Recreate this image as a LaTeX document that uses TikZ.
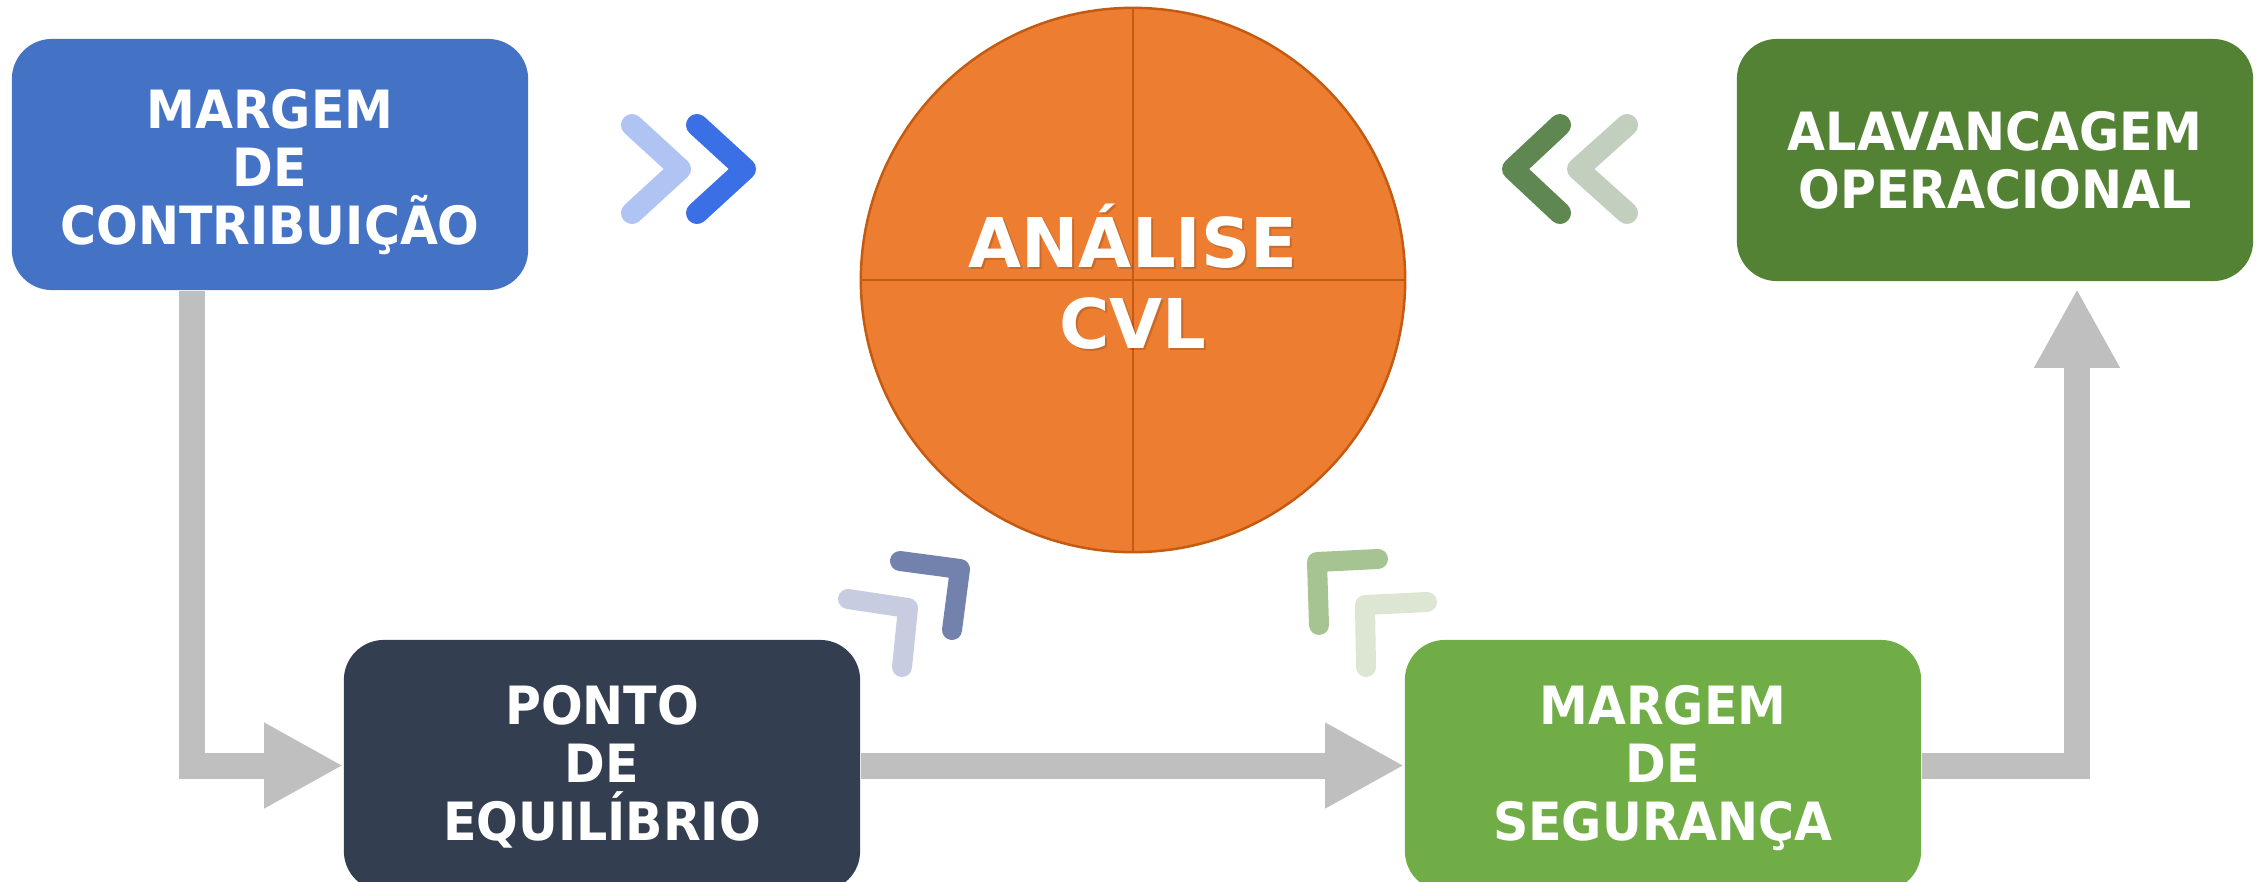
\documentclass[tikz,border=0pt]{standalone}
\usepackage{fontspec}
\setmainfont{DejaVu Sans}
\usetikzlibrary{arrows.meta}
\definecolor{mcblue}{HTML}{4472C4}
\definecolor{navy}{HTML}{333F50}
\definecolor{lgreen}{HTML}{70AD47}
\definecolor{dgreen}{HTML}{548235}
\definecolor{cvlorange}{HTML}{ED7D31}
\definecolor{cvledge}{HTML}{C55A11}
\definecolor{arrowgray}{HTML}{BFBFBF}
\definecolor{chevbluelight}{HTML}{B0C4F4}
\definecolor{chevbluedark}{HTML}{3A6FE6}
\definecolor{chevgreendark}{HTML}{5F8752}
\definecolor{chevgreenlight}{HTML}{C2CFBE}
\definecolor{bentbluedark}{HTML}{7282AC}
\definecolor{bentbluelight}{HTML}{C7CCE0}
\definecolor{bentgreendark}{HTML}{A6C491}
\definecolor{bentgreenlight}{HTML}{DCE6D2}
\begin{document}
\begin{tikzpicture}[x=0.01cm,y=-0.01cm,
  box/.style={rounded corners=0.4cm, minimum width=5.16cm, minimum height=2.51cm,
    inner sep=0pt},
  lbl/.style={anchor=north, align=center, inner sep=0pt, text=white,
    xscale=0.93, transform shape,
    font=\bfseries\fontsize{15}{16.4}\selectfont},
  garrow/.style={draw=arrowgray, line width=0.26cm, line join=miter,
    -{Triangle[length=0.79cm,width=0.80cm]}},
  chev/.style={line width=0.22cm, line cap=round, line join=round},
  bent/.style={line width=0.2cm, line cap=round, line join=round},
  cvltext/.style={align=center, inner sep=0pt,
    font=\bfseries\fontsize{19.5}{23}\selectfont}
]
\useasboundingbox (0,0) rectangle (2260,881);
\clip (0,0) rectangle (2260,881);

% boxes
\node[box, fill=mcblue] (mc) at (270,164.5) {};
\node[box, fill=dgreen, minimum height=2.42cm] (ao) at (1995,160) {};
\node[box, fill=navy] (pe) at (602,765.5) {};
\node[box, fill=lgreen] (ms) at (1663,765.5) {};

% box texts
\node[lbl] (mctext) at (270,89) {MARGEM\\DE\\CONTRIBUIÇÃO};
\node[lbl] (aotext) at (1995,111) {ALAVANCAGEM\\OPERACIONAL};
\node[lbl] (petext) at (602,685) {PONTO\\DE\\EQUILÍBRIO};
\node[lbl] (mstext) at (1663,685) {MARGEM\\DE\\SEGURANÇA};

% central circle
\node[circle, minimum size=5.44cm, inner sep=0pt, fill=cvlorange, draw=cvledge, line width=0.025cm] (cvl) at (1133,280) {};
\draw[cvledge, line width=0.025cm] (cvl.north) -- (cvl.south);
\draw[cvledge, line width=0.025cm] (cvl.west) -- (cvl.east);
\node[cvltext, text=black, opacity=0.15] (cvlshadow) at (1135,279) {ANÁLISE\\CVL};
\node[cvltext, text=white] (cvltitle) at (1133,277) {ANÁLISE\\CVL};

% gray connectors
\coordinate (c1) at (192,0);
\coordinate (c3) at (2077,0);
\draw[garrow] (mc.south -| c1) |- (pe.west);
\draw[garrow] (pe.east) -- (ms.west);
\draw[garrow, shorten >=0.07cm] (ms.east) -| (ao.south -| c3);

% chevrons
\draw[chev, chevbluelight] (632,125) -- (680,169) -- (632,213);
\draw[chev, chevbluedark] (697,125) -- (745,169) -- (697,213);
\draw[chev, chevgreendark] (1560,125) -- (1513,169) -- (1560,213);
\draw[chev, chevgreenlight] (1627,125) -- (1578,169) -- (1627,213);

% bent arrows
\draw[bent, bentbluedark] (900,561) -- (960,569) -- (952,630);
\draw[bent, bentbluelight] (848,599) -- (908,608) -- (902,667);
\draw[bent, bentgreendark] (1378,559) -- (1317,562) -- (1319,625);
\draw[bent, bentgreenlight] (1427,602) -- (1365,605) -- (1366,667);
\end{tikzpicture}
\end{document}
